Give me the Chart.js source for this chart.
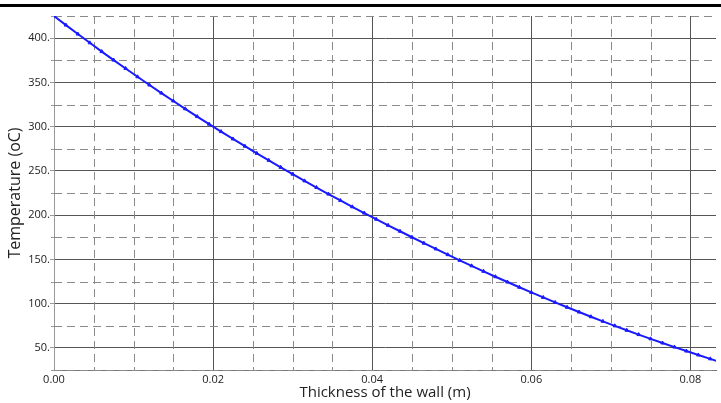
<!DOCTYPE html>
<html><head><meta charset="utf-8">
<script src="https://cdn.jsdelivr.net/npm/chart.js@4/dist/chart.umd.min.js"></script>
<style>
html,body{margin:0;padding:0;background:#fff;}
#wrap{position:relative;width:721px;height:403px;overflow:hidden;}
#bar{position:absolute;left:0;top:4px;width:721px;height:3px;background:#000;}
</style>
</head><body>
<div id="wrap"><canvas id="c" width="721" height="403"></canvas><div id="bar"></div></div>
<script>
// Wall position (m)
const thickness = [0.0000,0.0015,0.0030,0.0045,0.0060,0.0075,0.0090,0.0105,0.0120,0.0135,
  0.0150,0.0165,0.0180,0.0195,0.0210,0.0225,0.0240,0.0255,0.0270,0.0285,
  0.0300,0.0315,0.0330,0.0345,0.0360,0.0375,0.0390,0.0405,0.0420,0.0435,
  0.0450,0.0465,0.0480,0.0495,0.0510,0.0525,0.0540,0.0555,0.0570,0.0585,
  0.0600,0.0615,0.0630,0.0645,0.0660,0.0675,0.0690,0.0705,0.0720,0.0735,
  0.0750,0.0765,0.0780,0.0795,0.0810,0.0825,0.0840];
// Temperature (oC)
const temperature = [425.0,414.7,404.6,394.7,384.8,375.2,365.7,356.3,347.0,337.9,
  329.0,320.1,311.4,302.8,294.4,286.1,277.9,269.8,261.9,254.0,
  246.3,238.7,231.2,223.8,216.6,209.4,202.3,195.4,188.5,181.8,
  175.0,168.3,161.8,155.3,148.9,142.7,136.5,130.4,124.4,118.5,
  112.7,107.0,101.4,95.9,90.5,85.2,80.0,74.9,69.9,65.0,
  60.2,55.5,50.9,46.4,42.0,37.6,33.3];
const xMajorTicks = [0, 0.02, 0.04, 0.06, 0.08];
const xMinorTicks = [0.005, 0.01, 0.015, 0.025, 0.03, 0.035, 0.045, 0.05, 0.055, 0.065, 0.07, 0.075];
const yMajorTicks = [50, 100, 150, 200, 250, 300, 350, 400];
const yMinorTicks = [25, 75, 125, 175, 225, 275, 325, 375, 425];
const xRange = [0, 0.08322];
const yRange = [25, 425];

const minorGrid = {
  id: 'minorGrid',
  beforeDatasetsDraw(chart) {
    const {ctx, chartArea: a, scales: {x, y}} = chart;
    ctx.save();
    ctx.strokeStyle = '#8a8a8a';
    ctx.lineWidth = 1;
    ctx.setLineDash([8, 5]);
    xMinorTicks.forEach(v => {
      const px = Math.round(x.getPixelForValue(v)) + 0.5;
      ctx.beginPath(); ctx.moveTo(px, a.top); ctx.lineTo(px, a.bottom); ctx.stroke();
    });
    yMinorTicks.forEach(v => {
      const py = Math.round(y.getPixelForValue(v)) + 0.5;
      ctx.beginPath(); ctx.moveTo(a.left, py); ctx.lineTo(a.right, py); ctx.stroke();
    });
    ctx.setLineDash([]);
    ctx.strokeStyle = '#999';
    yMinorTicks.forEach(v => {
      const py = Math.round(y.getPixelForValue(v)) + 0.5;
      ctx.beginPath(); ctx.moveTo(a.left - 3, py); ctx.lineTo(a.left, py); ctx.stroke();
    });
    ctx.restore();
  }
};

const font = "'Open Sans', 'DejaVu Sans', sans-serif";
new Chart(document.getElementById('c'), {
  type: 'line',
  data: {
    datasets: [{
      data: thickness.map((t, i) => ({x: t, y: temperature[i]})),
      borderColor: '#1a1aff',
      backgroundColor: '#1a1aff',
      borderWidth: 2,
      pointStyle: 'triangle',
      pointRadius: 2,
      pointBorderWidth: 1,
      tension: 0,
      fill: false
    }]
  },
  options: {
    responsive: false,
    animation: false,
    devicePixelRatio: 1,
    layout: {padding: {top: 16, left: 0, right: 0, bottom: 0}},
    plugins: {legend: {display: false}, tooltip: {enabled: false}},
    scales: {
      x: {
        type: 'linear',
        min: xRange[0], max: xRange[1],
        afterBuildTicks: s => { s.ticks = xMajorTicks.map(v => ({value: v})); },
        afterFit: s => { s.height = 33; },
        grid: {color: '#555', lineWidth: 1, drawTicks: false},
        border: {display: true, color: '#777'},
        ticks: {padding: 3, color: '#222', font: {family: font, size: 11}, callback: v => Number(v).toFixed(2), maxRotation: 0},
        title: {display: true, text: 'Thickness of the wall (m)', color: '#222', font: {family: font, size: 15}, padding: {top: 0, bottom: 1}}
      },
      y: {
        type: 'linear',
        min: yRange[0], max: yRange[1],
        afterBuildTicks: s => { s.ticks = yMajorTicks.map(v => ({value: v})); },
        afterFit: s => { s.width = 54; },
        grid: {color: '#555', lineWidth: 1, drawTicks: true, tickLength: 4, tickColor: '#999'},
        border: {display: true, color: '#999'},
        ticks: {padding: 0, color: '#222', font: {family: font, size: 11}, callback: v => v + '.'},
        title: {display: true, text: 'Temperature (oC)', color: '#222', font: {family: font, size: 16}, padding: {top: 6, bottom: 0}}
      }
    }
  },
  plugins: [minorGrid]
});
</script>
</body></html>
